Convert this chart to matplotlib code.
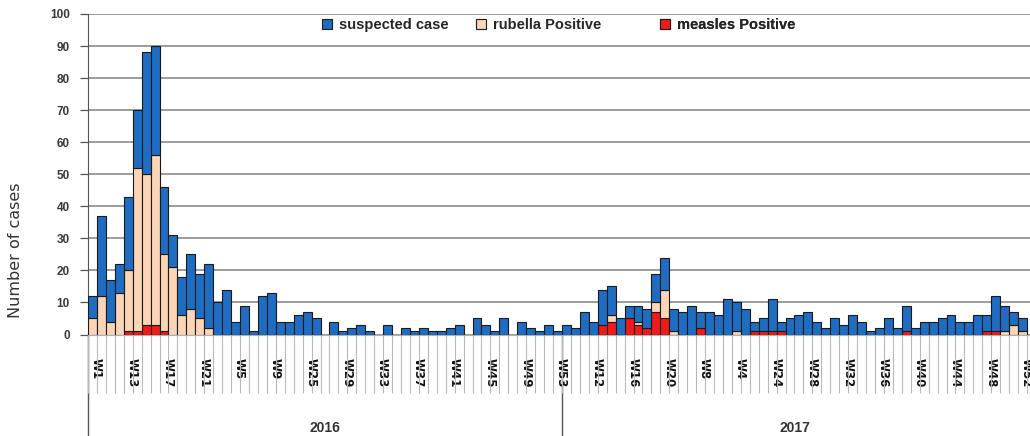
import numpy as np
import matplotlib
matplotlib.use("Agg")
import matplotlib.pyplot as plt
from matplotlib.patches import Patch
from matplotlib.transforms import ScaledTranslation

# Weekly case counts, one list per year (segments of the stacked bars)
years = ["2016", "2017"]

week_ticks = ["W1", "W13", "W17", "W21", "W5", "W9", "W25", "W29", "W33", "W37",
              "W41", "W45", "W49", "W53",
              "W12", "W16", "W20", "W8", "W4", "W24", "W28", "W32", "W36", "W40",
              "W44", "W48", "W52"]

measles_2016 = [0, 0, 0, 0, 1, 1, 3, 3, 1, 0, 0, 0, 0,
                0, 0, 0, 0, 0, 0, 0, 0, 0, 0, 0, 0, 0,
                0, 0, 0, 0, 0, 0, 0, 0, 0, 0, 0, 0, 0,
                0, 0, 0, 0, 0, 0, 0, 0, 0, 0, 0, 0, 0, 0]
rubella_2016 = [5, 12, 4, 13, 19, 51, 47, 53, 24, 21, 6, 8, 5,
                2, 0, 0, 0, 0, 0, 0, 0, 0, 0, 0, 0, 0,
                0, 0, 0, 0, 0, 0, 0, 0, 0, 0, 0, 0, 0,
                0, 0, 0, 0, 0, 0, 0, 0, 0, 0, 0, 0, 0, 0]
suspected_2016 = [7, 25, 13, 9, 23, 18, 38, 34, 21, 10, 12, 17, 14,
                  20, 10, 14, 4, 9, 1, 12, 13, 4, 4, 6, 7, 5,
                  0, 4, 1, 2, 3, 1, 0, 3, 0, 2, 1, 2, 1,
                  1, 2, 3, 0, 5, 3, 1, 5, 0, 4, 2, 1, 3, 1]

measles_2017 = [0, 0, 0, 0, 3, 4, 0, 5, 3, 2, 7, 5, 0,
                0, 0, 2, 0, 0, 0, 0, 0, 1, 1, 1, 1, 0,
                0, 0, 0, 0, 0, 0, 0, 0, 0, 0, 0, 0, 1,
                0, 0, 0, 0, 0, 0, 0, 0, 1, 1, 0, 0, 0]
rubella_2017 = [0, 0, 0, 0, 0, 2, 0, 0, 1, 0, 3, 9, 1,
                0, 0, 0, 0, 0, 0, 1, 0, 0, 0, 0, 0, 0,
                0, 0, 0, 0, 0, 0, 0, 0, 0, 0, 0, 0, 0,
                0, 0, 0, 0, 0, 0, 0, 0, 0, 0, 1, 3, 1]
suspected_2017 = [3, 2, 7, 4, 11, 9, 5, 4, 5, 6, 9, 10, 7,
                  7, 9, 5, 7, 6, 11, 9, 8, 3, 4, 10, 3, 5,
                  6, 7, 4, 2, 5, 3, 6, 4, 1, 2, 5, 2, 8,
                  2, 4, 4, 5, 6, 4, 4, 6, 5, 11, 8, 4, 4]

measles = np.array(measles_2016 + measles_2017, dtype=float)
rubella = np.array(rubella_2016 + rubella_2017, dtype=float)
suspected = np.array(suspected_2016 + suspected_2017, dtype=float)
n_2016 = len(measles_2016)
n_total = len(measles)
x = np.arange(n_total)

BLUE = "#1f6dc2"
PEACH = "#fbd5b5"
RED = "#f01a1a"
EDGE = "#1a1a1a"
TXT = "#333333"

fig = plt.figure(figsize=(10.30, 4.36), dpi=100)
ax = fig.add_axes([88 / 1030, 101.5 / 436, 942 / 1030, 320.5 / 436])

cat_px = 8.943
ax.set_xlim(-0.5, -0.5 + 942 / cat_px)
ax.set_ylim(0, 100)


def edge_widths(v):
    return np.where(v > 0, 0.8, 0.0)


ax.bar(x, measles, width=1.0, color=RED, edgecolor=EDGE,
       linewidth=edge_widths(measles), zorder=3)
ax.bar(x, rubella, width=1.0, bottom=measles, color=PEACH, edgecolor=EDGE,
       linewidth=edge_widths(rubella), zorder=3)
ax.bar(x, suspected, width=1.0, bottom=measles + rubella, color=BLUE,
       edgecolor=EDGE, linewidth=edge_widths(suspected), zorder=3)

# y axis
ax.set_yticks(np.arange(0, 101, 10))
ax.yaxis.grid(True, color="#8a8a8a", linewidth=1.2)
ax.set_axisbelow(True)
ax.tick_params(axis="y", direction="out", length=6, width=0.9, color="#555555",
               pad=7, labelsize=8.5, labelcolor="#3a3a3a")
for lbl in ax.get_yticklabels():
    lbl.set_family("Liberation Sans")
    lbl.set_weight("bold")

ax.set_ylabel("Number of cases", family="DejaVu Sans", fontsize=11.5,
              color=TXT, va="center")
ax.yaxis.set_label_coords(-0.077, 0.264)

for side in ("top", "right"):
    ax.spines[side].set_visible(False)
ax.spines["left"].set_color("#555555")
ax.spines["bottom"].set_color("#b0b0b0")

# week labels every fourth category, with a boundary line between categories
ax.set_xticks(x[::4])
ax.set_xticklabels(week_ticks, rotation=270, family="DejaVu Sans",
                   weight="bold", fontsize=8.5, color="#111111")
ax.set_xticks(np.arange(-0.5, n_total, 1.0), minor=True)
ax.tick_params(axis="x", which="major", length=0, pad=17)
ax.tick_params(axis="x", which="minor", length=42, width=0.8, color="#b8b8b8")
shift = ScaledTranslation(4 / 100, 0, fig.dpi_scale_trans)
for lbl in ax.get_xticklabels():
    lbl.set_transform(lbl.get_transform() + shift)

# year level of the category axis
year_axis = ax.secondary_xaxis("bottom")
year_axis.set_xticks([(n_2016 - 1) / 2, n_2016 + (n_total - n_2016 - 1) / 2])
year_axis.set_xticklabels(years, family="Liberation Sans", weight="bold",
                          fontsize=10, color=TXT)
year_axis.set_xticks([-0.5, n_2016 - 0.5], minor=True)
year_axis.tick_params(which="major", length=0, pad=62)
year_axis.tick_params(which="minor", length=73, width=1.0, color="#555555")
year_axis.spines["bottom"].set_visible(False)

# legend entries across the top
entries = [("suspected case", BLUE, 322), ("rubella Positive", PEACH, 476),
           ("measles Positive", RED, 660)]
for label, color, xpix in entries:
    leg = ax.legend(handles=[Patch(facecolor=color, edgecolor=EDGE, linewidth=0.8)],
                    labels=[label], loc="center left",
                    bbox_to_anchor=((xpix - 88) / 942, 0.966),
                    frameon=False, borderpad=0, borderaxespad=0,
                    handlelength=0.7, handleheight=0.7, handletextpad=0.45,
                    prop=dict(family="Liberation Sans", weight="bold", size=10.5),
                    labelcolor="#262626")
    ax.add_artist(leg)

fig.savefig("out.png", dpi=100)
